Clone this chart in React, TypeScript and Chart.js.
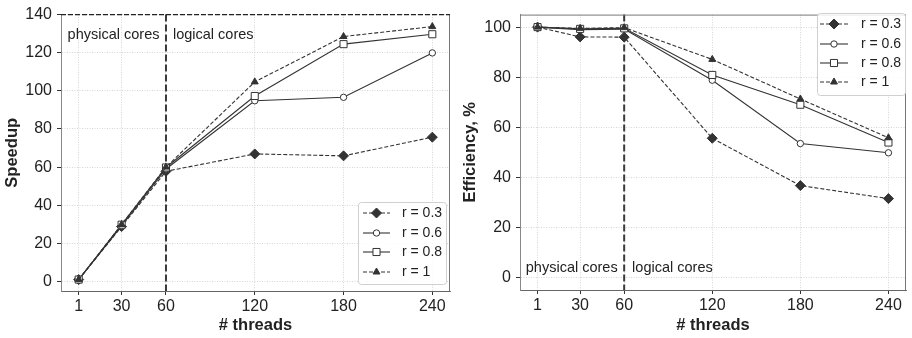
import React, { useEffect, useRef } from "react";
import { Chart, registerables } from "chart.js";
import { drawPoint } from "chart.js/helpers";

Chart.register(...registerables);

// ---------- data ----------
const threads = [1, 30, 60, 120, 180, 240];
const seriesLabels = ["r = 0.3", "r = 0.6", "r = 0.8", "r = 1"];

const speedupR03 = [1, 28.8, 57.8, 66.9, 65.9, 75.7];
const speedupR06 = [1, 29.2, 59.0, 94.8, 96.6, 119.9];
const speedupR08 = [1, 29.8, 59.8, 97.3, 124.5, 129.7];
const speedupR1 = [1, 29.9, 60.0, 104.7, 128.5, 133.7];

const effR03 = [100, 96.1, 96.0, 55.6, 36.7, 31.5];
const effR06 = [100, 99.0, 99.2, 78.8, 53.5, 49.8];
const effR08 = [100, 99.3, 99.5, 80.9, 69.0, 53.9];
const effR1 = [100, 99.5, 99.8, 87.1, 71.3, 55.8];

const speedupTicks = [0, 20, 40, 60, 80, 100, 120, 140];
const effTicks = [0, 20, 40, 60, 80, 100];

const coreBoundary = 60;
const annotationTexts = ["physical cores", "logical cores"];

// ---------- styles ----------
const FONT = "'Liberation Sans', Arial, Helvetica, sans-serif";
const INK = "#333333";
const seriesStyles = [
  { dash: [4, 2], pointStyle: "rectRot", radius: 5, fill: INK },
  { dash: [], pointStyle: "circle", radius: 3.2, fill: "#ffffff" },
  { dash: [], pointStyle: "rect", radius: 5, fill: "#ffffff" },
  { dash: [4, 2], pointStyle: "triangle", radius: 4, fill: INK },
];

type PanelCfg = {
  series: number[][];
  yTicks: number[];
  yMin: number;
  yMax: number;
  yTitle: string;
  padTop: number;
  yAxisW: number;
  xAxisH: number;
  yTitlePad: number;
  topDashedAt: number | null;
  physAt: [number, number];
  logAt: [number, number];
  legendBox: [number, number, number, number];
  legendRows: number[];
  legendLineX: [number, number];
  legendTextX: number;
};

function makePlugin(cfg: PanelCfg) {
  return {
    id: "decor",
    beforeDatasetsDraw(chart: any) {
      const { ctx, chartArea, scales } = chart;
      const x = scales.x.getPixelForValue(coreBoundary);
      ctx.save();
      ctx.strokeStyle = "#3a3a3a";
      ctx.lineWidth = 2;
      ctx.setLineDash([7, 3]);
      ctx.beginPath();
      ctx.moveTo(x, chartArea.top);
      ctx.lineTo(x, chartArea.bottom);
      ctx.stroke();
      ctx.restore();
    },
    afterDraw(chart: any) {
      const { ctx, chartArea, scales } = chart;
      ctx.save();
      ctx.strokeStyle = "#777";
      ctx.lineWidth = 1;
      ctx.setLineDash([]);
      ctx.beginPath();
      ctx.moveTo(chartArea.right - 0.5, chartArea.top);
      ctx.lineTo(chartArea.right - 0.5, chartArea.bottom);
      if (cfg.topDashedAt === null) {
        ctx.moveTo(chartArea.left, chartArea.top + 0.5);
        ctx.lineTo(chartArea.right, chartArea.top + 0.5);
      }
      ctx.stroke();
      if (cfg.topDashedAt !== null) {
        const y = scales.y.getPixelForValue(cfg.topDashedAt);
        ctx.strokeStyle = "#222";
        ctx.lineWidth = 1.2;
        ctx.setLineDash([5, 2]);
        ctx.beginPath();
        ctx.moveTo(chartArea.left, y);
        ctx.lineTo(chartArea.right, y);
        ctx.stroke();
        ctx.setLineDash([]);
      }
      ctx.fillStyle = "#222";
      ctx.font = `14.5px ${FONT}`;
      ctx.textBaseline = "middle";
      ctx.textAlign = "left";
      ctx.fillText(
        annotationTexts[0],
        scales.x.getPixelForValue(cfg.physAt[0]),
        scales.y.getPixelForValue(cfg.physAt[1])
      );
      ctx.fillText(
        annotationTexts[1],
        scales.x.getPixelForValue(cfg.logAt[0]),
        scales.y.getPixelForValue(cfg.logAt[1])
      );
      const [bx, by, bw, bh] = cfg.legendBox;
      ctx.fillStyle = "rgba(255,255,255,0.85)";
      ctx.strokeStyle = "#d0d0d0";
      ctx.lineWidth = 1;
      ctx.beginPath();
      (ctx as any).roundRect(bx + 0.5, by + 0.5, bw, bh, 3);
      ctx.fill();
      ctx.stroke();
      const [lx1, lx2] = cfg.legendLineX;
      const mid = (lx1 + lx2) / 2;
      seriesLabels.forEach((lab, i) => {
        const st = seriesStyles[i];
        const y = cfg.legendRows[i];
        ctx.strokeStyle = INK;
        ctx.lineWidth = 1.1;
        ctx.setLineDash(st.dash);
        ctx.beginPath();
        ctx.moveTo(lx1, y);
        ctx.lineTo(lx2, y);
        ctx.stroke();
        ctx.setLineDash([]);
        ctx.fillStyle = st.fill;
        ctx.strokeStyle = INK;
        ctx.lineWidth = 1;
        drawPoint(
          ctx,
          { pointStyle: st.pointStyle as any, radius: st.radius, rotation: 0, borderWidth: 1 } as any,
          mid,
          y
        );
        ctx.fillStyle = "#222";
        ctx.font = `14px ${FONT}`;
        ctx.textBaseline = "middle";
        ctx.textAlign = "left";
        ctx.fillText(lab, cfg.legendTextX, y);
      });
      ctx.restore();
    },
  };
}

function Panel({ cfg }: { cfg: PanelCfg }) {
  const ref = useRef<HTMLCanvasElement | null>(null);
  useEffect(() => {
    if (!ref.current) return;
    const datasets = cfg.series.map((vals, i) => {
      const st = seriesStyles[i];
      return {
        label: seriesLabels[i],
        data: threads.map((t, j) => ({ x: t, y: vals[j] })),
        borderColor: INK,
        borderWidth: 1.1,
        borderDash: st.dash,
        pointStyle: st.pointStyle,
        pointRadius: st.radius,
        pointBackgroundColor: st.fill,
        pointBorderColor: INK,
        pointBorderWidth: 1,
        fill: false,
        tension: 0,
        order: 3 - i,
      };
    });
    const chart = new Chart(ref.current, {
      type: "line",
      data: { datasets: datasets as any },
      plugins: [makePlugin(cfg) as any],
      options: {
        animation: false,
        responsive: false,
        maintainAspectRatio: false,
        layout: { padding: { top: cfg.padTop, right: 0, bottom: 0, left: 0 } },
        plugins: { legend: { display: false }, tooltip: { enabled: false } },
        scales: {
          x: {
            type: "linear",
            min: -10.95,
            max: 251.95,
            afterBuildTicks: (s: any) => {
              s.ticks = threads.map((v) => ({ value: v }));
            },
            afterFit: (s: any) => {
              s.height = cfg.xAxisH;
            },
            ticks: {
              font: { size: 16, family: FONT },
              color: "#222",
              padding: 2,
              maxRotation: 0,
              autoSkip: false,
              callback: (v: any) => String(v),
            },
            grid: {
              color: "#cccccc",
              lineWidth: 0.8,
              drawTicks: true,
              tickLength: 4,
              tickColor: "#333",
              tickWidth: 1,
              tickBorderDash: [],
            },
            border: { display: true, color: "#666", width: 1, dash: [1, 1.5] },
            title: {
              display: true,
              text: "# threads",
              font: { size: 16.5, weight: "bold", family: FONT },
              color: "#222",
              padding: { top: 0, bottom: 3 },
            },
          },
          y: {
            type: "linear",
            min: cfg.yMin,
            max: cfg.yMax,
            afterBuildTicks: (s: any) => {
              s.ticks = cfg.yTicks.map((v) => ({ value: v }));
            },
            afterFit: (s: any) => {
              s.width = cfg.yAxisW;
            },
            ticks: {
              font: { size: 16, family: FONT },
              color: "#222",
              padding: 5,
              autoSkip: false,
              callback: (v: any) => String(v),
            },
            grid: {
              color: "#cccccc",
              lineWidth: 0.8,
              drawTicks: true,
              tickLength: 4,
              tickColor: "#333",
              tickWidth: 1,
              tickBorderDash: [],
            },
            border: { display: true, color: "#888", width: 1, dash: [1, 1.5] },
            title: {
              display: true,
              text: cfg.yTitle,
              font: { size: 16.5, weight: "bold", family: FONT },
              color: "#222",
              padding: { top: cfg.yTitlePad, bottom: 0 },
            },
          },
        },
      } as any,
    });
    return () => chart.destroy();
  }, [cfg]);
  return <canvas ref={ref} width={456} height={338} style={{ width: 456, height: 338, display: "block" }} />;
}

const leftCfg: PanelCfg = {
  series: [speedupR03, speedupR06, speedupR08, speedupR1],
  yTicks: speedupTicks,
  yMin: -5,
  yMax: 140,
  yTitle: "Speedup",
  padTop: 11,
  yAxisW: 61,
  xAxisH: 47,
  yTitlePad: 3,
  topDashedAt: 140,
  physAt: [-6.5, 129.3],
  logAt: [64.7, 129.3],
  legendBox: [358, 202, 88, 82],
  legendRows: [213, 233, 252, 272],
  legendLineX: [363, 390],
  legendTextX: 402,
};

const rightCfg: PanelCfg = {
  series: [effR03, effR06, effR08, effR1],
  yTicks: effTicks,
  yMin: -5,
  yMax: 105,
  yTitle: "Efficiency, %",
  padTop: 6,
  yAxisW: 64,
  xAxisH: 48,
  yTitlePad: 5,
  topDashedAt: null,
  physAt: [-7, 3.6],
  logAt: [65.4, 3.6],
  legendBox: [361, 13, 88, 82],
  legendRows: [24, 44, 63, 82],
  legendLineX: [364, 392],
  legendTextX: 405,
};

export default function App() {
  return (
    <div style={{ position: "absolute", left: 0, top: 0, width: 912, height: 338, display: "flex", background: "#fff" }}>
      <Panel cfg={leftCfg} />
      <Panel cfg={rightCfg} />
    </div>
  );
}
